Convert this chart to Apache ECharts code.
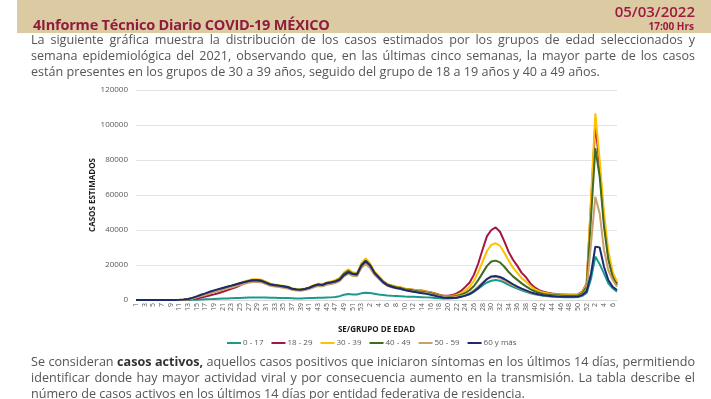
<!DOCTYPE html>
<html><head><meta charset="utf-8">
<script src="https://cdn.jsdelivr.net/npm/echarts@6/dist/echarts.min.js"></script>
<style>
html,body{margin:0;padding:0;background:#fff;width:711px;height:399px;overflow:hidden;font-family:"Open Sans","Lato",sans-serif;}
#chart{position:absolute;left:0;top:0;width:711px;height:399px;}
.band{position:absolute;left:17px;top:0;width:694px;height:33px;background:#dccaa3;}
.title{position:absolute;left:33px;top:15px;font-size:14.5px;font-weight:700;color:#8e1c3f;white-space:nowrap;letter-spacing:-0.2px;}
.date{position:absolute;right:16px;top:1px;font-size:15px;font-weight:600;color:#9e1a40;}
.hrs{position:absolute;right:17px;top:19px;font-size:10px;font-weight:700;color:#9e1a40;}
.p{position:absolute;left:31px;width:664px;font-size:12.6px;color:#555;white-space:nowrap;line-height:16px;}
.j{text-align:justify;text-align-last:justify;}
</style></head>
<body>
<div id="chart"></div>
<div class="band"></div>
<div class="title">4Informe Técnico Diario COVID-19 MÉXICO</div>
<div class="date">05/03/2022</div>
<div class="hrs">17:00 Hrs</div>
<div class="p j" style="top:32px">La siguiente gráfica muestra la distribución de los casos estimados por los grupos de edad seleccionados y</div>
<div class="p j" style="top:48px">semana epidemiológica del 2021, observando que, en las últimas cinco semanas, la mayor parte de los casos</div>
<div class="p" style="top:64px">están presentes en los grupos de 30 a 39 años, seguido del grupo de 18 a 19 años y 40 a 49 años.</div>
<div class="p j" style="top:354px">Se consideran <b style="color:#333">casos activos,</b> aquellos casos positivos que iniciaron síntomas en los últimos 14 días, permitiendo</div>
<div class="p j" style="top:370px">identificar donde hay mayor actividad viral y por consecuencia aumento en la transmisión. La tabla describe el</div>
<div class="p" style="top:386px">número de casos activos en los últimos 14 días por entidad federativa de residencia.</div>
<script>
const weeks2020 = ["1","2","3","4","5","6","7","8","9","10","11","12","13","14","15","16","17","18","19","20","21","22","23","24","25","26","27","28","29","30","31","32","33","34","35","36","37","38","39","40","41","42","43","44","45","46","47","48","49","50","51","52","53"];
const weeks2021 = ["1","2","3","4","5","6","7","8","9","10","11","12","13","14","15","16","17","18","19","20","21","22","23","24","25","26","27","28","29","30","31","32","33","34","35","36","37","38","39","40","41","42","43","44","45","46","47","48","49","50","51","52"];
const weeks2022 = ["1","2","3","4","5","6","7"];

const seriesNames = ["0 - 17","18 - 29","30 - 39","40 - 49","50 - 59","60 y más"];

const age0_17 = [
0,0,0,0,0,0,0,0,0,0,
0,20,60,120,200,300,400,500,600,700,
800,900,1000,1100,1200,1300,1400,1500,1500,1500,
1400,1300,1300,1200,1200,1100,1000,900,900,1000,
1100,1200,1300,1300,1400,1500,1700,2200,3000,3400,
3200,3100,3800,
4200,4000,3600,3200,2900,2600,2400,2300,2200,2000,
1900,1800,1700,1600,1500,1400,1200,1000,900,900,
1000,1300,1800,2500,3400,4700,6500,8500,10000,11000,
11400,11000,10000,8700,7500,6500,5500,4700,3900,3300,
2800,2400,2200,2000,1800,1700,1600,1600,1600,1700,
2400,4000,
12000,24800,20500,15200,9500,6700,4800];

const age18_29 = [
0,0,0,0,0,0,0,0,0,0,
30,100,250,500,900,1400,2000,2600,3200,3900,
4700,5500,6400,7300,8300,9500,10500,11200,11200,10900,
9800,8700,8300,7900,7500,7100,6200,5800,5700,6100,
6800,7900,8600,8300,9300,9800,10400,11600,14500,16000,
14500,14200,19000,
21500,19500,15500,13000,10500,8900,8100,7500,7100,6500,
6200,5800,5500,5400,4800,4400,3700,3000,2500,2500,
2800,3800,5200,7500,10000,14500,21000,29000,36500,40000,
41500,39000,33500,27500,23000,19500,15500,13000,9500,7200,
5600,4700,4100,3700,3400,3200,3100,3000,3000,3200,
4800,9500,
55000,101000,76000,45000,25000,14000,9500];

const age30_39 = [
0,0,0,0,0,0,0,0,0,0,
50,150,400,900,1700,2500,3300,4200,5100,5900,
6700,7500,8200,9000,9800,10600,11300,11900,11900,11600,
10500,9300,8900,8500,8100,7700,6700,6300,6200,6600,
7300,8500,9300,9000,10100,10600,11300,12600,15800,17500,
15800,15400,21000,
23800,21000,16500,13800,11000,9200,8400,7700,7300,6600,
6200,5800,5400,5100,4700,4300,3500,2800,2200,2100,
2300,2900,3900,5500,7600,11000,16000,22000,28000,31500,
32400,31000,27000,22500,18500,15500,12500,10500,8000,6200,
5000,4300,3800,3500,3300,3200,3100,3000,3000,3100,
4500,9000,
58000,106600,80000,50000,28000,16000,10500];

const age40_49 = [
0,0,0,0,0,0,0,0,0,0,
60,170,450,1000,1800,2600,3400,4300,5100,5800,
6600,7300,8000,8800,9600,10300,10900,11400,11400,11100,
10100,9000,8600,8200,7800,7400,6400,6000,5900,6300,
7000,8100,8900,8600,9700,10200,10800,12000,15000,16700,
15100,14800,20000,
22500,20000,15800,13200,10600,8800,8000,7300,6900,6200,
5800,5400,5000,4700,4300,3900,3200,2500,1900,1800,
1900,2300,3000,4000,5700,8000,11500,15500,19500,22000,
22500,21500,19000,16000,13500,11500,9500,7800,6200,5000,
4100,3500,3100,2800,2700,2600,2500,2500,2500,2600,
3800,7500,
47000,86700,70500,42000,23000,13300,8600];

const age50_59 = [
0,0,0,0,0,0,0,0,0,0,
50,140,380,850,1500,2200,2900,3700,4400,5100,
5800,6500,7100,7800,8500,9200,9800,10300,10300,10000,
9100,8100,7700,7400,7000,6600,5800,5400,5300,5700,
6300,7300,8000,7800,8700,9100,9700,10800,13500,15000,
13800,13500,18200,
20600,18300,14500,12100,9700,8100,7300,6700,6300,5700,
5300,4900,4500,4200,3800,3400,2800,2200,1700,1500,
1500,1800,2300,3000,4000,5600,7700,10000,12000,13000,
13200,12500,11200,9800,8500,7300,6200,5200,4300,3600,
3100,2700,2400,2200,2100,2000,1900,1900,1900,2000,
3000,6000,
32000,59000,49500,28600,17000,11400,7600];

const age60plus = [
0,0,0,0,0,0,0,0,0,0,
80,220,550,1200,2100,3000,3800,4700,5500,6200,
6900,7600,8200,8900,9600,10200,10800,11200,11200,10800,
9800,8800,8400,8100,7700,7300,6400,6000,5900,6300,
7000,8000,8800,8600,9600,10000,10600,11500,14200,15800,
14800,14600,19500,
22300,19800,15500,12800,10200,8400,7600,6900,6400,5700,
5200,4700,4300,3900,3500,3000,2400,1800,1300,1100,
1100,1300,1800,2500,3400,5000,7000,9500,12000,13500,
13700,13200,12000,10500,9000,7600,6500,5500,4500,3700,
3100,2700,2400,2200,2000,1900,1800,1800,1800,1900,
2800,5000,
15000,30500,30000,19000,11400,7600,5700];

const categories = weeks2020.concat(weeks2021, weeks2022);
const colors = ["#1b998b","#a3173f","#ffc000","#3f6b23","#c9a06c","#1c2a6e"];
const allData = [age0_17, age18_29, age30_39, age40_49, age50_59, age60plus];

const chart = echarts.init(document.getElementById('chart'));
chart.setOption({
  animation:false,
  color:colors,
  textStyle:{fontFamily:'"Open Sans", Lato, sans-serif'},
  grid:{left:136,right:94,top:90,bottom:99,containLabel:false},
  legend:{
    data:seriesNames, top:334, left:222,
    itemWidth:14, itemHeight:2, itemGap:8, icon:'rect',
    textStyle:{fontSize:8,color:'#595959',padding:[0,0,0,-3]}
  },
  xAxis:{
    type:'category', data:categories, boundaryGap:false,
    name:'SE/GRUPO DE EDAD', nameLocation:'middle', nameGap:26,
    nameMoveOverlap:false,
    nameTextStyle:{fontSize:8,fontWeight:'bold',color:'#1a1a1a'},
    axisLine:{lineStyle:{color:'#d9d9d9'}},
    axisTick:{show:false},
    axisLabel:{interval:1, rotate:90, fontSize:7, color:'#595959', margin:3}
  },
  yAxis:{
    type:'value', min:0, max:120000, interval:20000,
    name:'CASOS ESTIMADOS', nameLocation:'middle', nameGap:39,
    nameMoveOverlap:false,
    nameTextStyle:{fontSize:8,fontWeight:'bold',color:'#1a1a1a'},
    axisLine:{show:false}, axisTick:{show:false},
    splitLine:{lineStyle:{color:'#e3e3e3'}},
    axisLabel:{fontSize:8,color:'#595959',margin:8,formatter:function(v){return String(v);}}
  },
  series: seriesNames.map((n,i)=>({
    name:n, type:'line', data:allData[i], symbol:'none',
    lineStyle:{width:2,color:colors[i]}, itemStyle:{color:colors[i]}
  }))
});
</script>
</body></html>
